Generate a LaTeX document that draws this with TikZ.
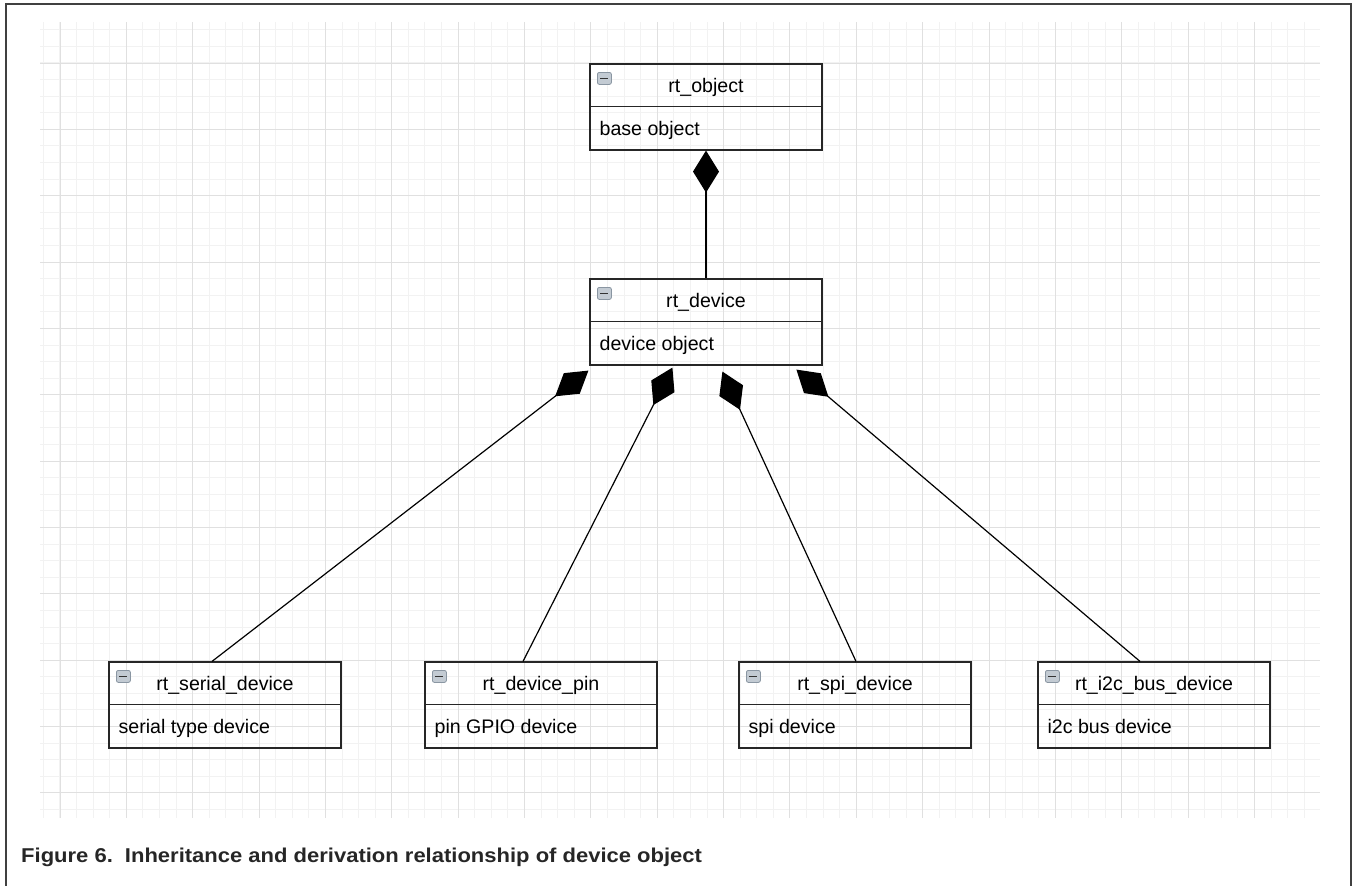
\documentclass[tikz,border=0pt]{standalone}
\usepackage{fontspec}
\setmainfont{Liberation Sans}
\usetikzlibrary{arrows.meta,calc}
\definecolor{frameclr}{HTML}{404040}
\definecolor{iconfill}{HTML}{C3CBD3}
\definecolor{iconborder}{HTML}{8A96A2}
\definecolor{minorclr}{HTML}{F2F2F2}
\definecolor{majorclr}{HTML}{E0E0E0}
\tikzset{
  umlframe/.style={draw=black!85, line width=1.2pt, minimum width=232pt, minimum height=86pt, inner sep=0pt},
  umlline/.style={draw=black!85, line width=1.2pt},
  umltext/.style={font=\fontsize{19.6}{22}\selectfont, inner sep=0pt, text=black},
  umlicon/.style={draw=iconborder, fill=iconfill, rounded corners=2pt, minimum width=14pt, minimum height=12pt, inner sep=0pt, line width=0.8pt},
  iconbar/.style={draw=black!80, line width=1.8pt},
  comp/.style={draw=black, line width=1.2pt, {Diamond[length=42pt,width=26pt]}-},
  minorgrid/.style={draw=minorclr, line width=1pt},
  majorgrid/.style={draw=majorclr, line width=1pt},
  frameline/.style={draw=frameclr, line width=2.5pt},
  captext/.style={font=\bfseries\fontsize{20}{22}\selectfont, text=black!85, inner sep=0pt},
}
\newcommand\umlbox[5]{%
  \node[umlframe] (#1) at ({#2+116},{#3+43}) {};
  \draw[umlline] ($(#1.north west)+(0,43)$) -- ($(#1.north east)+(0,43)$);
  \node[umltext, anchor=base] (#1-t) at ($(#1.north)+(0,29)$) {#4};
  \node[umltext, anchor=base west] (#1-b) at ($(#1.north west)+(10,72)$) {#5};
  \node[umlicon] (#1-i) at ($(#1.north west)+(15,15)$) {};
  \draw[iconbar] ($(#1-i.center)+(-4,0)$) -- ($(#1-i.center)+(4,0)$);
}
\begin{document}
\begin{tikzpicture}[x=1pt, y=-1pt]
\useasboundingbox (0,0) rectangle (1353,886);
% grid
\foreach \i in {0,...,76} {\draw[minorgrid] ({43.4+\i*16.59},22) -- ({43.4+\i*16.59},818);}
\foreach \j in {0,...,47} {\draw[minorgrid] (40,{29.8+\j*16.59}) -- (1320,{29.8+\j*16.59});}
\foreach \i in {0,...,18} {\draw[majorgrid] ({60+\i*66.36},22) -- ({60+\i*66.36},818);}
\foreach \j in {0,...,11} {\draw[majorgrid] (40,{63+\j*66.36}) -- (1320,{63+\j*66.36});}
% frame
\draw[frameline] (6,886) -- (6,4) -- (1351,4) -- (1351,886);
% boxes
\umlbox{obj}{590}{64}{rt\_object}{base object}
\umlbox{dev}{590}{279}{rt\_device}{device object}
\umlbox{ser}{109}{662}{rt\_serial\_device}{serial type device}
\umlbox{pin}{425}{662}{rt\_device\_pin}{pin GPIO device}
\umlbox{spi}{739}{662}{rt\_spi\_device}{spi device}
\umlbox{i2c}{1038}{662}{rt\_i2c\_bus\_device}{i2c bus device}
% connectors
\draw[comp] (obj.south) -- (dev.north);
\coordinate (d1) at ($(dev.south west)+(-1,5)$);
\coordinate (d2) at ($(dev.south west)+(83,2)$);
\coordinate (d3) at ($(dev.south west)+(133,6)$);
\coordinate (d4) at ($(dev.south west)+(207,4)$);
\draw[comp] (d1) -- ($(ser.north)+(-13,0)$);
\draw[comp] (d2) -- ($(pin.north)+(-18,0)$);
\draw[comp] (d3) -- ($(spi.north)+(1,0)$);
\draw[comp] (d4) -- ($(i2c.north)+(-14,0)$);
% caption
\node[captext, anchor=base west] (cap) at (21,862) {\scalebox{1.1}[1]{Figure 6.\hspace{0.55em}Inheritance and derivation relationship of device object}};
\end{tikzpicture}
\end{document}
